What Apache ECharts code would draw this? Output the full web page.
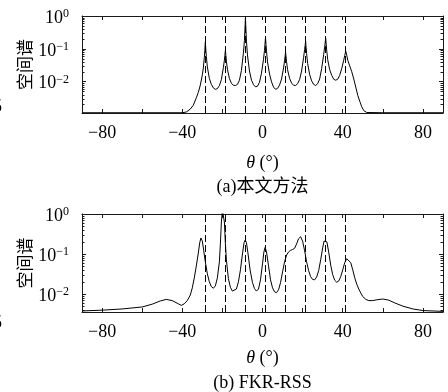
<!DOCTYPE html>
<html><head><meta charset="utf-8">
<script src="https://cdn.jsdelivr.net/npm/echarts@6/dist/echarts.min.js"></script>
<style>html,body{margin:0;padding:0;background:#fff}#c{width:448px;height:392px}</style>
</head><body><div id="c"></div>
<script>
// ---- data ----
const thetaA = [-90,-60,-40,-38,-36,-34.5,-33,-32,-31,-30,-29.5,-29,-28.75,-28.5,-28.25,-28,-27.5,-26.5,-25.5,-24.5,-23.5,-22.5,-21.5,-20.5,-19.5,-19,-18.75,-18.5,-18.25,-18,-17.5,-16.5,-15.5,-14.5,-13.5,-12.5,-11.5,-10.5,-9.5,-9,-8.75,-8.5,-8.25,-8,-7.5,-6.5,-5.5,-4.5,-3.5,-2.5,-1.5,-0.5,0.5,1,1.25,1.5,1.75,2,2.5,3.5,4.5,5.5,6.5,7.5,8.5,9.5,10.5,11,11.25,11.5,11.75,12,12.5,13.5,14.5,15.5,16.5,17.5,18.5,19.5,20.5,21,21.25,21.5,21.75,22,22.5,23.5,24.5,25.5,26.5,27.5,28.5,29.5,30.5,31,31.25,31.5,31.75,32,32.5,33.5,34.5,35.5,36.5,37.5,38.5,39.5,40.5,41,41.5,42,42.5,43.5,44.5,45.5,46.5,47.5,48.5,49.5,50.5,52,60,90];
const specA = [0.00112,0.00112,0.00112,0.00118,0.00145,0.0019,0.0032,0.0047,0.0078,0.016,0.026,0.055,0.09,0.16,0.092,0.058,0.028,0.0125,0.0082,0.0064,0.0058,0.0061,0.0075,0.0115,0.027,0.045,0.064,0.089,0.062,0.042,0.024,0.0125,0.0088,0.0077,0.0076,0.0082,0.011,0.022,0.075,0.18,0.4,0.86,0.38,0.17,0.065,0.021,0.011,0.0081,0.0069,0.0072,0.0095,0.018,0.048,0.09,0.14,0.22,0.135,0.085,0.04,0.017,0.0098,0.0068,0.0058,0.0062,0.0078,0.012,0.026,0.043,0.058,0.079,0.056,0.04,0.023,0.0125,0.009,0.0077,0.0076,0.0086,0.0115,0.021,0.055,0.095,0.125,0.17,0.11,0.072,0.036,0.0165,0.0105,0.0082,0.0076,0.0086,0.012,0.025,0.066,0.115,0.155,0.21,0.14,0.092,0.047,0.023,0.0155,0.0118,0.011,0.0118,0.0155,0.025,0.045,0.062,0.085,0.064,0.045,0.03,0.02,0.012,0.0068,0.0038,0.0025,0.0017,0.0013,0.00114,0.00112,0.00112];
const thetaB = [-90,-80,-70,-60,-55,-51,-48,-45,-42,-40.5,-39,-37.5,-36,-35,-34,-33,-32,-31.3,-30.7,-30,-29.3,-28.5,-27.5,-26.5,-25.5,-24.5,-23.5,-22.5,-21.5,-21,-20.5,-20,-19.5,-19,-18.5,-18,-17,-16,-15,-14.2,-13,-12,-11,-10,-9.2,-8.6,-8,-7.2,-6.2,-5,-4,-3,-2,-1,0,0.7,1.3,2,3,4,5,6,7,8,9,10,11,12,13,14,15,16,17,18,19,20,21,22,23,24,25,26,27,28,29,30,30.7,31.4,32.1,33,34,35,36,37,38,39,40,41,42,42.9,44,45,46,47,48,49,50,51.5,53,55,57,60,63,66,70,75,80,90];
const specB = [0.00372,0.00389,0.00417,0.00468,0.0055,0.0066,0.00724,0.00676,0.00562,0.00513,0.00562,0.00676,0.00933,0.0141,0.0251,0.0501,0.105,0.191,0.251,0.209,0.12,0.0631,0.0316,0.02,0.0151,0.0138,0.0158,0.0251,0.0631,0.178,0.63,1.26,1.26,0.63,0.178,0.0708,0.024,0.0145,0.0117,0.011,0.0132,0.02,0.0398,0.1,0.191,0.224,0.191,0.1,0.0398,0.0191,0.0135,0.0117,0.0132,0.0224,0.0562,0.112,0.145,0.112,0.0501,0.0224,0.0141,0.0112,0.0107,0.0126,0.0191,0.0355,0.0631,0.0933,0.112,0.123,0.129,0.138,0.178,0.24,0.269,0.209,0.12,0.0631,0.038,0.0269,0.0229,0.0224,0.0263,0.038,0.0708,0.141,0.209,0.234,0.2,0.112,0.0525,0.0302,0.0219,0.0195,0.0209,0.0269,0.0398,0.0603,0.0759,0.0794,0.0603,0.0398,0.0251,0.0174,0.0132,0.0105,0.00851,0.00724,0.00676,0.00676,0.00708,0.00741,0.00692,0.00589,0.0049,0.00417,0.0038,0.00363];
const doaTrue = [-28.5,-18.5,-8.5,1.5,11.5,21.5,31.5,41.5];
const xTickVals = [-80,-60,-40,-20,0,20,40,60,80];
const xLabelVals = [-80,-40,0,40,80];
const yMinorVals = [0.002,0.003,0.004,0.005,0.006,0.007,0.008,0.009,0.02,0.03,0.04,0.05,0.06,0.07,0.08,0.09,0.2,0.3,0.4,0.5,0.6,0.7,0.8,0.9];
const xRange = [-90, 90];
const yRanges = [[0.0011, 1], [0.0035, 1]];
const captions = ['(a)本文方法', '(b) FKR-RSS'];
const yName = '空间谱';
const edgeFragments = ['5', '5'];

// ---- chart ----
const SERIF = '"Liberation Serif","DejaVu Serif",serif';
const CJK = '"Noto Sans CJK SC",sans-serif';
const MIXED = '"Liberation Serif","Noto Sans CJK SC",serif';
const FRAME = '#1a1a1a';
const grids = [{left:82, top:16, width:361, height:97}, {left:82, top:214, width:361, height:98}];
const xNameY = [163, 358];
const captionY = [187, 383];
const fragY = [107, 323];

function fmtX(v){ return v < 0 ? '\u2212' + (-v) : String(v); }
function fmtY(v){
  const e = Math.round(Math.log10(v));
  if (Math.abs(v / Math.pow(10, e) - 1) > 1e-6) return '';
  return '{b|10}{s|' + (e < 0 ? '\u2212' + (-e) : e) + '}';
}
const xAxes = [], yAxes = [], series = [], graphics = [];
const cx = grids[0].left + grids[0].width / 2;
grids.forEach((g, i) => {
  const common = {gridIndex:i, type:'value', min:xRange[0], max:xRange[1], splitLine:{show:false},
    axisLine:{show:true, onZero:false, lineStyle:{color:FRAME, width:1}}};
  xAxes.push(Object.assign({}, common, {position:'bottom',
    axisTick:{show:true, inside:true, length:4, customValues:xTickVals, lineStyle:{color:FRAME}},
    axisLabel:{show:true, customValues:xLabelVals, formatter:fmtX, fontFamily:SERIF, fontSize:18, color:'#000', margin:11}}));
  xAxes.push(Object.assign({}, common, {position:'top',
    axisTick:{show:true, inside:true, length:4, customValues:xTickVals, lineStyle:{color:FRAME}},
    axisLabel:{show:false}}));
  const ycommon = {gridIndex:i, type:'log', logBase:10, min:yRanges[i][0], max:yRanges[i][1], splitLine:{show:false},
    axisLine:{show:true, onZero:false, lineStyle:{color:FRAME, width:1}},
    axisTick:{show:true, inside:true, length:4, lineStyle:{color:FRAME}}};
  yAxes.push(Object.assign({}, ycommon, {position:'left',
    name:yName, nameLocation:'middle', nameRotate:90, nameGap:49, nameMoveOverlap:false,
    nameTextStyle:{fontFamily:CJK, fontSize:17, color:'#000'},
    axisLabel:{show:true, formatter:fmtY, margin:13, color:'#000', padding:[4,0,0,0],
      rich:{b:{fontFamily:SERIF, fontSize:18, color:'#000', lineHeight:20},
            s:{fontFamily:SERIF, fontSize:12, color:'#000', verticalAlign:'top', lineHeight:12}}}}));
  yAxes.push(Object.assign({}, ycommon, {position:'right', axisLabel:{show:false}}));
  series.push({type:'line', xAxisIndex:2*i, yAxisIndex:2*i,
    data:(i === 0 ? thetaA : thetaB).map((t, k) => [t, (i === 0 ? specA : specB)[k]]),
    showSymbol:false, symbol:'none', smooth:false, clip:true, animation:false,
    lineStyle:{color:'#000', width:1},
    markLine:{silent:true, symbol:['none','none'], animation:false, label:{show:false},
      lineStyle:{color:'#000', type:[7,3], width:1},
      emphasis:{disabled:true},
      data:doaTrue.map(v => ({xAxis:v}))}});
  series.push({type:'custom', xAxisIndex:2*i, yAxisIndex:2*i, animation:false, silent:true,
    data:yMinorVals.filter(v => v > yRanges[i][0] && v < yRanges[i][1]).map(v => [xRange[0], v]),
    encode:{x:0, y:1},
    renderItem:(params, api) => {
      const v = api.value(1);
      const pL = api.coord([xRange[0], v]);
      const pR = api.coord([xRange[1], v]);
      const y = Math.round(pL[1]) + 0.5;
      return {type:'group', children:[
        {type:'line', shape:{x1:pL[0], y1:y, x2:pL[0] + 2.5, y2:y}, style:{stroke:FRAME, lineWidth:1}},
        {type:'line', shape:{x1:pR[0] - 2.5, y1:y, x2:pR[0], y2:y}, style:{stroke:FRAME, lineWidth:1}}]};
    }});
  graphics.push({type:'text', x:cx, y:xNameY[i],
    style:{text:'{i|θ}{n| (°)}', align:'center', verticalAlign:'middle',
      rich:{i:{fontFamily:SERIF, fontStyle:'italic', fontSize:18, fill:'#000'},
            n:{fontFamily:SERIF, fontSize:18, fill:'#000'}}}});
  graphics.push({type:'text', x:cx, y:captionY[i],
    style:{text:captions[i], align:'center', verticalAlign:'middle', fontFamily:MIXED, fontSize:18, fill:'#000'}});
  graphics.push({type:'text', x:-7, y:fragY[i],
    style:{text:edgeFragments[i], align:'left', verticalAlign:'middle', fontFamily:SERIF, fontSize:18, fill:'#000'}});
});
const chart = echarts.init(document.getElementById('c'), null, {renderer:'canvas'});
chart.setOption({animation:false, backgroundColor:'#fff', grid:grids, xAxis:xAxes, yAxis:yAxes, series:series, graphic:graphics});
</script></body></html>
